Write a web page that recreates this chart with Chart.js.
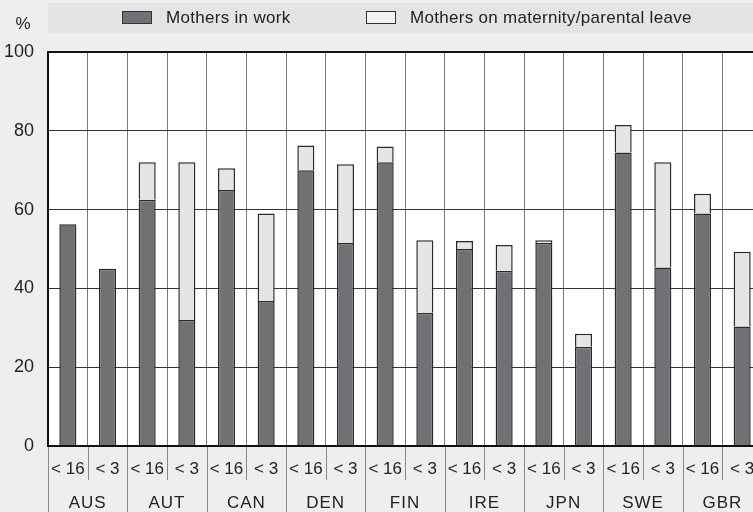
<!DOCTYPE html>
<html>
<head>
<meta charset="utf-8">
<script src="https://cdn.jsdelivr.net/npm/chart.js@4"></script>
<style>
    html, body { margin: 0; padding: 0; background: #eeeeee; overflow: hidden; }
    #wrap { position: relative; width: 762px; height: 512px; }
</style>
</head>
<body>
<div id="wrap"><canvas id="myChart"></canvas></div>
<script>
const countries = ['AUS', 'AUT', 'CAN', 'DEN', 'FIN', 'IRE', 'JPN', 'SWE', 'GBR'];
const ageGroups = ['< 16', '< 3'];
const inWork = [56.3, 45, 62.5, 32, 65, 36.8, 70, 51.5, 72, 33.8, 50, 44.5, 51.5, 25.2, 74.5, 45.3, 59, 30.3];
const onLeave = [null, null, 9.5, 40, 5.5, 22.2, 6.3, 20, 4, 18.4, 2, 6.5, 0.7, 3.3, 7, 26.7, 5, 19];
const yTicks = [0, 20, 40, 60, 80, 100];

const FONT = '"Liberation Sans", Arial, sans-serif';
const DARK = '#707175';
const LIGHT = '#e4e5e7';

const labels = [];
countries.forEach(c => ageGroups.forEach(a => labels.push(c + ' ' + a)));

const backdrop = {
    id: 'backdrop',
    beforeDraw(chart) {
        const { ctx, chartArea: a, width } = chart;
        ctx.save();
        ctx.fillStyle = '#eeeeee';
        ctx.fillRect(0, 0, width, chart.height);
        ctx.fillStyle = '#ffffff';
        ctx.fillRect(a.left, a.top, a.right - a.left, a.bottom - a.top);
        // legend band
        ctx.fillStyle = '#e4e4e5';
        ctx.fillRect(48, 3, width - 48, 30);
        ctx.restore();
    },
    afterDraw(chart) {
        const { ctx, chartArea: a, height } = chart;
        const x = chart.scales.x;
        ctx.save();
        // legend
        const items = [['Mothers in work', DARK, 122], ['Mothers on maternity/parental leave', '#f2f2f2', 366]];
        ctx.font = '17px ' + FONT;
        ctx.textBaseline = 'middle';
        ctx.letterSpacing = '0.3px';
        items.forEach(([t, col, lx]) => {
            ctx.fillStyle = col;
            ctx.fillRect(lx, 11, 30, 13);
            ctx.strokeStyle = '#333';
            ctx.lineWidth = 1;
            ctx.strokeRect(lx + 0.5, 11.5, 29, 12);
            ctx.fillStyle = '#222';
            ctx.textAlign = 'left';
            ctx.fillText(t, lx + 44, 18);
        });
        ctx.textAlign = 'center';
        ctx.letterSpacing = '0px';
        ctx.fillText('%', 23, 24);

        // category separators and labels
        const step = x.getPixelForValue(1) - x.getPixelForValue(0);
        ctx.strokeStyle = '#888';
        ctx.lineWidth = 1;
        for (let i = 0; i <= labels.length; i++) {
            const px = Math.round(x.getPixelForValue(0) - step / 2 + i * step) + 0.5;
            ctx.beginPath();
            ctx.moveTo(px, a.bottom + 1);
            ctx.lineTo(px, i % 2 === 0 ? height : a.bottom + 34);
            ctx.stroke();
        }
        ctx.fillStyle = '#222';
        ctx.font = '17px ' + FONT;
        labels.forEach((l, i) => {
            const cx = x.getPixelForValue(i);
            ctx.fillText(ageGroups[i % 2], cx, a.bottom + 23);
        });
        ctx.letterSpacing = '1px';
        countries.forEach((c, i) => {
            const cx = (x.getPixelForValue(2 * i) + x.getPixelForValue(2 * i + 1)) / 2;
            ctx.fillText(c, cx, a.bottom + 57);
        });
        ctx.restore();
    }
};

const ctx = document.getElementById('myChart').getContext('2d');
new Chart(ctx, {
    type: 'bar',
    data: {
        labels: labels,
        datasets: [{
            label: 'Mothers in work',
            data: inWork,
            backgroundColor: DARK,
            borderColor: '#2a2a2a',
            borderWidth: 1.5,
            barPercentage: 0.43,
            categoryPercentage: 1,
        }, {
            label: 'Mothers on maternity/parental leave',
            data: onLeave,
            backgroundColor: LIGHT,
            borderColor: '#2a2a2a',
            borderWidth: 1.5,
            barPercentage: 0.43,
            categoryPercentage: 1,
        }]
    },
    options: {
        responsive: true,
        maintainAspectRatio: false,
        animation: false,
        layout: { padding: { top: 52, left: 0, right: 0, bottom: 0 } },
        plugins: {
            legend: { display: false },
            tooltip: { enabled: false }
        },
        scales: {
            x: {
                stacked: true,
                offset: true,
                afterFit: s => { s.height = 66; },
                ticks: { display: false },
                border: { display: false },
                grid: { color: '#7a7a7a', lineWidth: 1, drawTicks: false, offset: true }
            },
            y: {
                stacked: true,
                min: 0,
                max: 100,
                afterFit: s => { s.width = 48; },
                afterBuildTicks: s => { s.ticks = yTicks.map(v => ({ value: v })); },
                ticks: { color: '#222', font: { family: FONT, size: 18 }, padding: 14 },
                border: { display: true, color: '#111', width: 2 },
                grid: {
                    drawTicks: false,
                    color: c => (c.tick.value === 0 || c.tick.value === 100) ? '#111' : '#333',
                    lineWidth: c => (c.tick.value === 0 || c.tick.value === 100) ? 2 : 1
                }
            }
        }
    },
    plugins: [backdrop]
});
</script>
</body>
</html>
